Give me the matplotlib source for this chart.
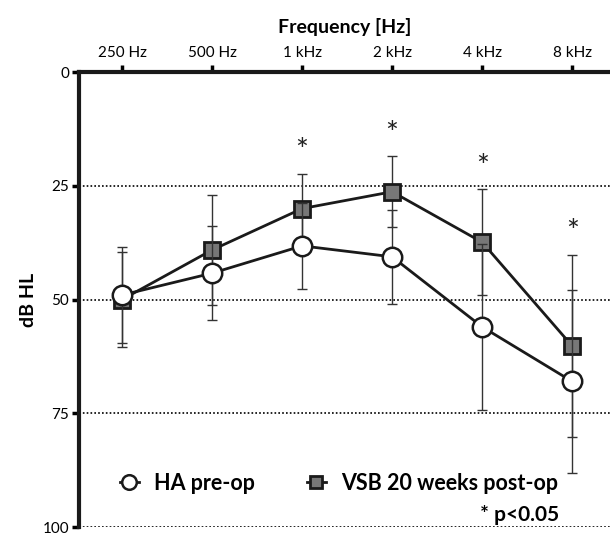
import numpy as np
import matplotlib
matplotlib.use("Agg")
import matplotlib.pyplot as plt

plt.rcParams['font.family'] = ['Lato', 'DejaVu Sans']

freqs = ['250 Hz', '500 Hz', '1 kHz', '2 kHz', '4 kHz', '8 kHz']

# HA pre-op (circles)
ha_mean = [49.0, 44.2, 38.2, 40.6, 56.0, 68.0]
ha_err = [10.5, 10.3, 9.5, 10.3, 18.3, 20.1]

# VSB 20 weeks post-op (squares)
vsb_mean = [50.0, 39.1, 30.0, 26.3, 37.4, 60.2]
vsb_err = [10.5, 12.1, 7.7, 7.8, 11.6, 20.1]

# significance marks (p<0.05)
signif = [False, False, True, True, True, True]

yticks = [0, 25, 50, 75, 100]

x = np.arange(len(freqs))

fig = plt.figure(figsize=(6.1, 5.34), dpi=100)
ax = fig.add_axes([0.1295, 0.013, 0.8705, 0.852])

# grid lines
for v in yticks[1:]:
    ax.axhline(v, color='black', lw=1.2, ls=(0, (1, 1.3)), zorder=0)

# VSB
ax.errorbar(x, vsb_mean, yerr=vsb_err, fmt='none', ecolor='#333333',
            elinewidth=1, capsize=3.5, capthick=1, zorder=2)
ax.plot(x, vsb_mean, color='#1a1a1a', lw=2, marker='s', markersize=12,
        markerfacecolor='#777777', markeredgecolor='#1a1a1a',
        markeredgewidth=2, zorder=3, label='VSB 20 weeks post-op')

# HA
ax.errorbar(x, ha_mean, yerr=ha_err, fmt='none', ecolor='#333333',
            elinewidth=1, capsize=3.5, capthick=1, zorder=4)
ax.plot(x, ha_mean, color='#1a1a1a', lw=2, marker='o', markersize=14,
        markerfacecolor='white', markeredgecolor='#1a1a1a',
        markeredgewidth=1.8, zorder=5, label='HA pre-op')

# asterisks
for i, s in enumerate(signif):
    if s:
        ax.text(x[i], vsb_mean[i] - vsb_err[i] - 5.0, '*', ha='center',
                va='center', fontsize=22, color='#222222')

ax.set_xlim(-0.478, 5.42)
ax.set_ylim(100, 0)
ax.set_yticks(yticks)
ax.set_xticks(x)
ax.set_xticklabels(freqs)
ax.xaxis.tick_top()
ax.xaxis.set_label_position('top')
ax.tick_params(axis='x', direction='out', length=5, width=2.5, labelsize=11, pad=4)
ax.tick_params(axis='y', direction='out', length=5, width=2.5, labelsize=11, pad=2)
ax.set_xlabel('Frequency [Hz]', fontsize=14, fontweight='bold', labelpad=9)
ax.set_ylabel('dB HL', fontsize=14, fontweight='bold', labelpad=4)

for side in ['right', 'bottom']:
    ax.spines[side].set_visible(False)
for side in ['left', 'top']:
    ax.spines[side].set_linewidth(3)
    ax.spines[side].set_color('#1a1a1a')

handles, labels = ax.get_legend_handles_labels()
ax.legend(handles[::-1], labels[::-1], ncol=2, frameon=False,
          loc='lower left', bbox_to_anchor=(0.04, 0.03), handlelength=0.9,
          handletextpad=0.7, columnspacing=2.4, markerscale=0.75,
          prop={'weight': 'bold', 'size': 15.5})

ax.text(0.905, 0.027, '* p<0.05', transform=ax.transAxes, ha='right',
        va='center', fontsize=15, fontweight='bold')

fig.savefig('out.png', dpi=100)
